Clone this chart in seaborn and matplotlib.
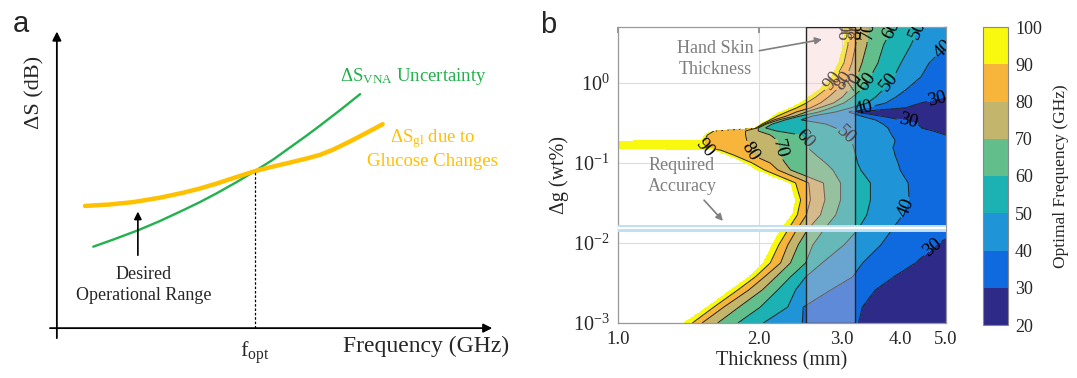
import numpy as np
import matplotlib
matplotlib.use("Agg")
import matplotlib.pyplot as plt
import seaborn as sns
from matplotlib.colors import ListedColormap
from matplotlib.ticker import FixedLocator, FixedFormatter, LogLocator, NullFormatter

sns.set_theme(style="white")
plt.rcParams["font.family"] = ["Liberation Serif", "DejaVu Serif"]
plt.rcParams["mathtext.fontset"] = "custom"
plt.rcParams["mathtext.rm"] = "Liberation Serif"
plt.rcParams["mathtext.it"] = "Liberation Serif:italic"
plt.rcParams["mathtext.bf"] = "Liberation Serif:bold"

# ---------------- Panel a data (schematic, arbitrary units) ----------------
freq_vna = [0.84, 1.30, 1.88, 2.38, 2.92, 3.30, 3.69, 4.15, 4.57, 5.00, 5.38, 5.77, 6.07, 6.54, 7.00]
ds_vna = [2.76, 3.00, 3.32, 3.63, 4.00, 4.27, 4.57, 4.95, 5.32, 5.72, 6.12, 6.53, 6.86, 7.39, 7.93]
freq_gl = [0.65, 1.22, 1.76, 2.38, 2.92, 3.30, 3.69, 4.15, 4.57, 5.00, 5.38, 5.77, 6.07, 6.38,
           6.77, 7.15, 7.52]
ds_gl = [4.14, 4.19, 4.27, 4.42, 4.59, 4.73, 4.90, 5.12, 5.32, 5.48, 5.61, 5.75, 5.87, 6.05,
         6.33, 6.62, 6.91]

# ---------------- Panel b data ----------------
# rows of glucose change (wt%) and thickness (mm) where each frequency level is crossed
dg_rows = [0.001, 0.00158, 0.00259, 0.00376, 0.00562, 0.00944, 0.0145, 0.0224,
           0.0345, 0.0562, 0.0818, 0.100, 0.126, 0.145, 0.154, 0.183, 0.194,
           0.224, 0.251, 0.274, 0.307, 0.345, 0.387, 0.434, 0.487, 0.562,
           0.668, 0.818, 1.19, 1.78, 2.99, 5.01]
t_100 = [1.38, 1.55, 1.74, 1.90, 2.04, 2.13, 2.22, 2.35, 2.39, 2.33, 1.98, 1.87, 1.71, 1.61, 0.75, 0.75,
         1.51, 1.53, 1.59, 1.96, 2.01, 2.09, 2.14, 2.22, 2.33, 2.45, 2.55, 2.68, 2.85, 2.95, 3.03, 3.03]
t_90 = [1.44, 1.60, 1.80, 1.96, 2.11, 2.20, 2.30, 2.41, 2.45, 2.39, 2.05, 1.93, 1.76, 1.65, 1.53, 1.53,
        1.53, 1.55, 1.60, 1.97, 2.03, 2.11, 2.19, 2.29, 2.40, 2.52, 2.64, 2.76, 2.92, 3.03, 3.09, 3.10]
t_80 = [1.51, 1.68, 1.90, 2.05, 2.22, 2.30, 2.40, 2.52, 2.57, 2.55, 2.19, 2.11, 1.93, 1.91, 1.91, 1.89,
        1.88, 1.87, 1.87, 1.98, 2.05, 2.15, 2.29, 2.40, 2.57, 2.70, 2.81, 2.92, 3.07, 3.15, 3.21, 3.24]
t_70 = [1.63, 1.81, 2.03, 2.17, 2.33, 2.42, 2.53, 2.70, 2.76, 2.74, 2.33, 2.27, 2.21, 2.21, 2.20, 2.19,
        2.18, 2.11, 1.99, 1.99, 2.07, 2.20, 2.39, 2.52, 2.68, 2.88, 3.01, 3.10, 3.23, 3.31, 3.39, 3.42]
t_60 = [1.80, 2.01, 2.19, 2.33, 2.51, 2.60, 2.74, 2.91, 2.98, 2.98, 2.87, 2.77, 2.64, 2.57, 2.55, 2.53,
        2.52, 2.45, 2.17, 2.06, 2.13, 2.27, 2.45, 2.68, 2.84, 3.03, 3.16, 3.29, 3.45, 3.58, 3.68, 3.85]
t_50 = [2.04, 2.30, 2.39, 2.51, 2.72, 3.03, 3.24, 3.39, 3.45, 3.45, 3.29, 3.24, 3.21, 3.19, 3.18, 3.15,
        3.13, 3.06, 2.98, 2.91, 2.77, 2.45, 2.60, 2.91, 3.13, 3.40, 3.54, 3.67, 3.87, 4.01, 4.21, 4.38]
t_40 = [2.47, 2.48, 2.84, 3.16, 3.32, 3.63, 3.83, 4.04, 4.17, 4.15, 3.99, 3.95, 3.89, 3.87, 3.85, 3.89,
        3.89, 3.83, 3.79, 3.76, 3.67, 3.54, 3.29, 3.10, 3.37, 3.72, 3.91, 4.10, 4.42, 4.60, 5.05, 6.0]
t_30 = [3.26, 3.32, 3.54, 3.87, 4.31, 4.76, 5.38, 9.0, 9.0, 9.0, 9.0, 9.0, 9.0, 9.0, 9.0, 9.0,
        5.6, 5.0, 4.71, 4.44, 4.35, 4.06, 3.63, 3.23, 4.10, 4.44, 5.0, 9.0, 9.0, 9.0, 9.0, 9.0]
crossing_levels = [100, 90, 80, 70, 60, 50, 40, 30]
levels = [20, 30, 40, 50, 60, 70, 80, 90, 100]
band_colors = ["#2e2b88", "#0f6ae0", "#1f94d6", "#1cb1b2", "#62bf8b",
               "#c4b56c", "#f8b53c", "#f9f90f"]
skin_thickness = [2.52, 3.20]
required_accuracy = 0.0154

x_ticks = [1, 2, 3, 4, 5]
x_ticklabels = ["1.0", "2.0", "3.0", "4.0", "5.0"]
y_ticks = [1e-3, 1e-2, 1e-1, 1e0]

# ---------------- Figure ----------------
W, H = 1077, 378
fig = plt.figure(figsize=(W / 100, H / 100), dpi=100)

# ===== Panel a =====
ax_a = fig.add_axes([30 / W, 18 / H, 490 / W, 350 / H])
ax_a.set_xlim(-0.62, 10.69)
ax_a.set_ylim(-1.08, 10.78)
ax_a.axis("off")

green = "#22b14c"
orange = "#ffc000"
sns.lineplot(x=freq_vna, y=ds_vna, ax=ax_a, color=green, lw=1.7, sort=False)
sns.lineplot(x=freq_gl, y=ds_gl, ax=ax_a, color=orange, lw=3.2, sort=False)

fx = np.linspace(max(min(freq_vna), min(freq_gl)), min(max(freq_vna), max(freq_gl)), 4000)
diff = np.interp(fx, freq_vna, ds_vna) - np.interp(fx, freq_gl, ds_gl)
idx = np.where(np.diff(np.sign(diff)) != 0)[0][0]
f_opt = fx[idx]
s_opt = np.interp(f_opt, freq_vna, ds_vna)
ax_a.plot([f_opt, f_opt], [0, s_opt], color="black", lw=0.9, ls=(0, (2, 1.5)))

arrow_kw = dict(arrowstyle="-|>", color="black", lw=1.3, mutation_scale=13, shrinkA=0, shrinkB=0)
ax_a.annotate("", xy=(10.05, 0), xytext=(-0.16, 0), arrowprops=arrow_kw)
ax_a.annotate("", xy=(0, 10.05), xytext=(0, -0.34), arrowprops=arrow_kw)

ax_a.text(-0.51, 7.97, "ΔS (dB)", rotation=90, ha="center", va="center", fontsize=16)
ax_a.text(f_opt, -0.85, "f$_{\\rm opt}$", ha="center", va="center", fontsize=16)
ax_a.text(10.45, -0.62, "Frequency (GHz)", ha="right", va="center", fontsize=17)
ax_a.text(6.54, 8.51, "ΔS$_{\\rm VNA}$ Uncertainty", color=green, ha="left", va="center", fontsize=13.5)
ax_a.text(8.68, 6.08, "ΔS$_{\\rm gl}$ due to\nGlucose Changes", color=orange, ha="center",
          va="center", fontsize=13.5, linespacing=1.25)
ax_a.text(2.0, 1.45, "Desired\nOperational Range", ha="center", va="center", fontsize=13,
          linespacing=1.3)
ax_a.annotate("", xy=(1.87, 3.95), xytext=(1.87, 2.47),
              arrowprops=dict(arrowstyle="-|>", color="black", lw=1.2, mutation_scale=11,
                              shrinkA=0, shrinkB=0))

fig.text(13 / W, 1 - 32 / H, "a", fontsize=21, family="Liberation Sans", va="baseline")
fig.text(540 / W, 1 - 33 / H, "b", fontsize=21, family="Liberation Sans", va="baseline")

# ===== Panel b =====
ax_b = fig.add_axes([618 / W, 55 / H, 328 / W, 296 / H])
ax_b.set_xscale("log")
ax_b.set_yscale("log")

t_fine = np.logspace(0, np.log10(5), 700)
dg_fine = np.logspace(-3, np.log10(5), 700)
lg_rows = np.log10(dg_rows)
bounds = [np.log10(b) for b in (t_100, t_90, t_80, t_70, t_60, t_50, t_40, t_30)]
lt = np.log10(t_fine)
Z = np.full((len(dg_fine), len(t_fine)), np.nan)
for i, lg in enumerate(np.log10(dg_fine)):
    b = np.array([np.interp(lg, lg_rows, row) for row in bounds])
    b = np.maximum.accumulate(b + np.arange(len(b)) * 1e-6)
    Z[i] = np.interp(lt, b, crossing_levels, left=np.nan, right=25)
Z = np.clip(Z, 20.5, 99.9)

cmap = ListedColormap(band_colors)
cf = ax_b.contourf(t_fine, dg_fine, Z, levels=levels, cmap=cmap, vmin=20, vmax=100, zorder=1)
cs = ax_b.contour(t_fine, dg_fine, Z, levels=levels[1:-1], colors="#222222", linewidths=0.7,
                  zorder=2)
label_pos = [(1.53, 0.15), (1.92, 0.14), (2.21, 0.15), (2.5, 0.2), (3.1, 0.24),
             (3.10, 4.5), (3.24, 4.5), (3.42, 4.5), (3.85, 4.5), (4.38, 4.5),
             (2.84, 1.1), (3.0, 1.1), (3.16, 1.05), (3.40, 1.0), (3.77, 1.05),
             (3.34, 0.48), (4.9, 2.8), (4.8, 0.62), (4.15, 0.34), (4.1, 0.028), (4.68, 0.0087)]
ax_b.clabel(cs, fmt="%d", manual=label_pos, fontsize=13.5, inline=True, inline_spacing=2,
            colors="black")

ax_b.axvspan(skin_thickness[0], skin_thickness[1], facecolor=(0.96, 0.78, 0.78, 0.35),
             edgecolor=(0.15, 0.15, 0.15, 1.0), lw=1.0, zorder=4)
ax_b.axhline(required_accuracy, color="#bfe0f2", lw=5, zorder=5)
ax_b.axhline(required_accuracy, color="white", lw=1.5, zorder=6)

gray = "#7f7f7f"
ax_b.annotate("Hand Skin\nThickness", xy=(0.622, 0.958), xytext=(0.296, 0.893),
              xycoords="axes fraction", textcoords="axes fraction", ha="center", va="center",
              fontsize=13, color=gray, linespacing=1.3,
              arrowprops=dict(arrowstyle="-|>", color=gray, lw=1.2, mutation_scale=10,
                              shrinkA=2, shrinkB=0), zorder=7)
ax_b.annotate("Required\nAccuracy", xy=(0.320, 0.345), xytext=(0.195, 0.497),
              xycoords="axes fraction", textcoords="axes fraction", ha="center", va="center",
              fontsize=13, color=gray, linespacing=1.3,
              arrowprops=dict(arrowstyle="-|>", color=gray, lw=1.2, mutation_scale=10,
                              shrinkA=2, shrinkB=0), zorder=7)

ax_b.set_xlim(1, 5)
ax_b.set_ylim(1e-3, 5)
ax_b.xaxis.set_major_locator(FixedLocator(x_ticks))
ax_b.xaxis.set_major_formatter(FixedFormatter(x_ticklabels))
ax_b.xaxis.set_minor_locator(LogLocator(base=10, subs=np.arange(1, 10) * 0.1, numticks=50))
ax_b.xaxis.set_minor_formatter(NullFormatter())
ax_b.yaxis.set_major_locator(FixedLocator(y_ticks))
ax_b.yaxis.set_minor_locator(LogLocator(base=10, subs=np.arange(2, 10), numticks=50))
ax_b.yaxis.set_minor_formatter(NullFormatter())
ax_b.tick_params(which="both", direction="in", top=True, right=True, color="#888888",
                 labelsize=13.5, pad=6)
ax_b.tick_params(axis="y", labelsize=14.5)
ax_b.tick_params(which="major", length=4)
ax_b.tick_params(which="minor", length=2)
ax_b.grid(True, which="major", color="#dddddd", lw=0.8)
ax_b.set_axisbelow(True)
for s in ax_b.spines.values():
    s.set_color("#999999")
    s.set_linewidth(0.9)
ax_b.set_xlabel("Thickness (mm)", fontsize=14.5, labelpad=2)
ax_b.set_ylabel("Δg (wt%)", fontsize=14.5, labelpad=3)

cax = fig.add_axes([983 / W, 53 / H, 25 / W, 298 / H])
cb = fig.colorbar(cf, cax=cax, ticks=levels)
cb.ax.tick_params(length=0, labelsize=13, pad=5)
cb.outline.set_edgecolor("#888888")
cb.outline.set_linewidth(0.8)
cb.set_label("Optimal Frequency (GHz)", fontsize=12.5, labelpad=8)

fig.savefig("out.png", dpi=100)
